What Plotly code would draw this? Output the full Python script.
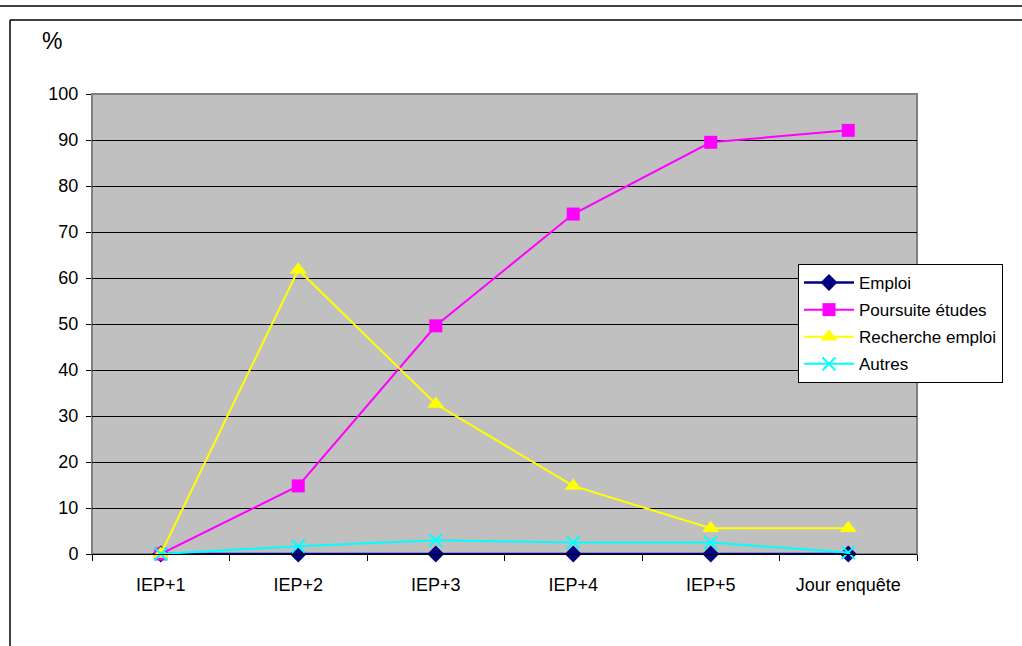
import plotly.graph_objects as go

categories = ["IEP+1", "IEP+2", "IEP+3", "IEP+4", "IEP+5", "Jour enquête"]
emploi = [0, 0, 0, 0, 0, 0]
poursuite = [0, 14.8, 49.6, 73.9, 89.5, 92.1]
recherche = [0, 61.8, 32.6, 14.8, 5.6, 5.6]
autres = [0, 1.7, 3.0, 2.5, 2.5, 0.3]
y_ticks = list(range(0, 101, 10))

L, R, T, B = 92, 917, 94, 554
W, H = 1022, 646

fig = go.Figure()
fig.add_trace(go.Scatter(x=categories, y=emploi, name="Emploi", mode="lines+markers",
                         line=dict(color="#000080", width=2.5),
                         marker=dict(symbol="diamond", size=13, color="#000080"),
                         legendgroup="a", cliponaxis=False))
fig.add_trace(go.Scatter(x=categories, y=poursuite, name="Poursuite études", mode="lines+markers",
                         line=dict(color="#FF00FF", width=2),
                         marker=dict(symbol="square", size=13, color="#FF00FF"),
                         legendgroup="b", cliponaxis=False))
fig.add_trace(go.Scatter(x=categories, y=recherche, name="Recherche emploi", mode="lines+markers",
                         line=dict(color="#FFFF00", width=2),
                         marker=dict(symbol="triangle-up", size=15, color="#FFFF00"),
                         legendgroup="c", cliponaxis=False))
fig.add_trace(go.Scatter(x=categories, y=autres, name="Autres", mode="lines+markers",
                         line=dict(color="#00FFFF", width=2),
                         marker=dict(symbol="x-thin", size=13, line=dict(color="#00FFFF", width=2)),
                         legendgroup="d", cliponaxis=False))

def px_x(p):
    return (p - L) / (R - L)

def px_y(p):
    return (B - p) / (B - T)

shapes = [
    dict(type="line", xref="paper", yref="paper", x0=px_x(0), x1=px_x(W), y0=px_y(6), y1=px_y(6),
         line=dict(color="black", width=1.5)),
    dict(type="line", xref="paper", yref="paper", x0=px_x(10), x1=px_x(W), y0=px_y(20), y1=px_y(20),
         line=dict(color="black", width=1.5)),
    dict(type="line", xref="paper", yref="paper", x0=px_x(10), x1=px_x(10), y0=px_y(20), y1=px_y(H),
         line=dict(color="black", width=1.5)),
    dict(type="rect", xref="paper", yref="paper", x0=0, x1=1, y0=0, y1=1,
         line=dict(color="#808080", width=2), layer="below"),
]

fig.update_layout(
    width=W, height=H,
    margin=dict(l=L, r=W - R, t=T, b=H - B),
    paper_bgcolor="white",
    plot_bgcolor="#C0C0C0",
    font=dict(family="Arial, Liberation Sans, sans-serif", color="black", size=17),
    shapes=shapes,
    showlegend=True,
    legend=dict(x=px_x(798), y=px_y(264), xanchor="left", yanchor="top",
                bgcolor="white", bordercolor="black", borderwidth=1,
                font=dict(size=17), tracegroupgap=2, itemwidth=50),
    annotations=[dict(text="%", xref="paper", yref="paper", x=px_x(40), y=px_y(41),
                      xanchor="left", yanchor="middle", showarrow=False,
                      font=dict(size=23))],
)
fig.update_xaxes(type="category", range=[-0.5, 5.5], showgrid=False,
                 ticks="outside", ticklen=6, tickcolor="black", tickson="boundaries",
                 showline=True, linecolor="black", linewidth=1, ticklabelstandoff=14,
                 tickfont=dict(size=18), zeroline=False)
fig.update_yaxes(range=[0, 100], tickvals=y_ticks, showgrid=True, gridcolor="black", gridwidth=1,
                 ticks="outside", ticklen=5, tickcolor="black", ticklabelstandoff=4,
                 showline=True, linecolor="#808080", linewidth=1,
                 tickfont=dict(size=18), zeroline=False)

fig.write_html("out.html", config={"displayModeBar": False},
               post_script="document.body.style.margin='0';")
